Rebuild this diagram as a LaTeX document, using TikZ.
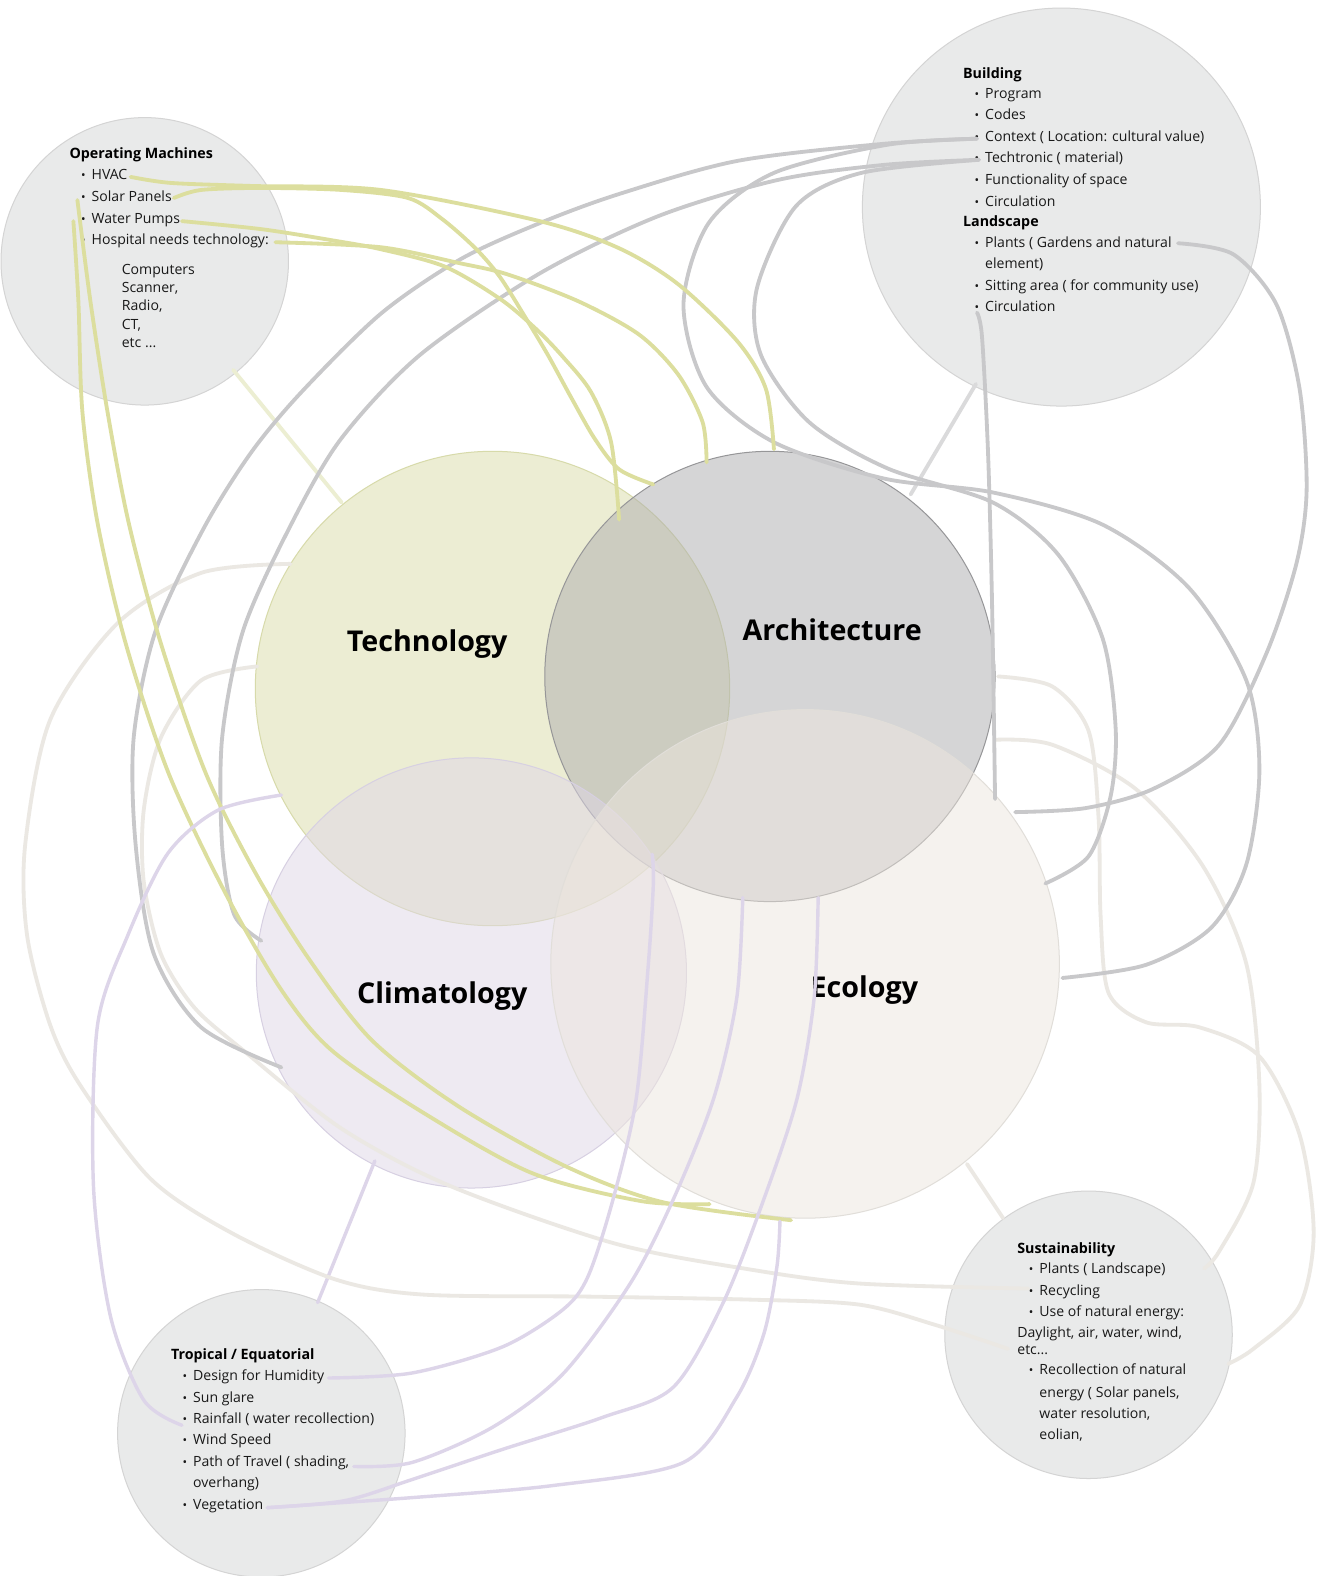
\documentclass[tikz,border=0pt]{standalone}
\usepackage{fontspec}
\setmainfont{Open Sans}
\definecolor{ylw}{RGB}{220,222,158}
\definecolor{gry}{RGB}{200,200,202}
\definecolor{bge}{RGB}{235,232,227}
\definecolor{lav}{RGB}{221,213,233}
\definecolor{paleylw}{RGB}{236,238,210}
\definecolor{palegry}{RGB}{218,218,219}
\definecolor{cfill}{RGB}{233,234,234}
\definecolor{cline}{RGB}{212,212,212}
\definecolor{techfill}{RGB}{195,198,112}
\definecolor{techline}{RGB}{215,218,170}
\definecolor{archfill}{RGB}{173,173,175}
\definecolor{archline}{RGB}{150,150,152}
\definecolor{climfill}{RGB}{223,215,231}
\definecolor{climline}{RGB}{215,208,226}
\definecolor{ecolfill}{RGB}{237,230,222}
\definecolor{ecolline}{RGB}{225,222,217}
\newcommand{\bitem}[4]{\node[bul] at (#2,#3) {•}; \node[lt] (#1) at ([xshift=8pt]#2,#3) {#4};}
\begin{document}
\begin{tikzpicture}[x=1pt,y=-1pt,
  corner/.style={circle, draw=cline, fill=cfill, line width=1pt, inner sep=0pt},
  maincirc/.style={circle, line width=1pt, inner sep=0pt},
  lt/.style={anchor=base west, inner sep=0pt, font=\fontsize{14}{17}\selectfont, text=black!90},
  ltb/.style={lt, font=\fontsize{14.2}{17}\selectfont\bfseries, text=black},
  bul/.style={anchor=base, inner sep=0pt, font=\fontsize{12}{12}\selectfont, text=black!90},
  big/.style={font=\fontsize{28.5}{34}\selectfont\bfseries, inner sep=0pt, text=black},
  conn/.style={line width=3.8pt, line cap=round, line join=round},
  yl/.style={conn, draw=ylw},
  gy/.style={conn, draw=gry},
  bg/.style={conn, draw=bge},
  lv/.style={conn, draw=lav, line width=3.4pt},
]
\fill[white] (0,0) rectangle (1315,1568);
\useasboundingbox (0,0) rectangle (1315,1568);

% corner circles
\node[corner, minimum size=286pt] (om) at (144,260) {};
\node[corner, minimum size=396pt] (bld) at (1056,206) {};
\node[corner, minimum size=286pt] (trop) at (260,1426) {};
\node[corner, minimum size=286pt] (sust) at (1083,1328) {};

% main circles
\node[maincirc, minimum size=472pt, fill=techfill, fill opacity=0.3, draw=techline] (tech) at (490,685) {};
\node[maincirc, minimum size=448pt, fill=archfill, fill opacity=0.5, draw=archline] (arch) at (766,673) {};
\node[maincirc, minimum size=428pt, fill=climfill, fill opacity=0.5, draw=climline] (clim) at (469,968) {};
\node[maincirc, minimum size=506pt, fill=ecolfill, fill opacity=0.5, draw=ecolline] (ecol) at (801,959) {};

% main labels
\node[big] (techL) at (425,641) {Technology};
\node[big] (archL) at (828,627) {Architecture};
\node[big] (climL) at (440,991) {Climatology};
\node[big] (ecolL) at (860,985) {Ecology};

% Operating machines text
\node[ltb] (omT) at (69,158) {Operating Machines};
\bitem{om1}{83}{179}{HVAC}
\bitem{om2}{83}{200}{Solar Panels}
\bitem{om3}{83}{222}{Water Pumps}
\bitem{om4}{83}{243}{Hospital needs technology:}
\node[lt] (om5) at (121,273) {Computers};
\node[lt] (om6) at (121,291) {Scanner,};
\node[lt] (om7) at (121,309) {Radio,};
\node[lt] (om8) at (121,328) {CT,};
\node[lt] (om9) at (121,346) {etc ...};

% Building text
\node[ltb] (bT) at (958,78) {Building};
\bitem{b1}{972}{98}{Program}
\bitem{b2}{972}{119}{Codes}
\bitem{b3}{972}{141}{Context ( Location: cultural value)}
\bitem{b4}{972}{162}{Techtronic ( material)}
\bitem{b5}{972}{184}{Functionality of space}
\bitem{b6}{972}{205}{Circulation}
\node[ltb] (lT) at (958,225) {Landscape};
\bitem{l1}{972}{246}{Plants ( Gardens and natural}
\node[lt] (l1b) at (980,267) {element)};
\bitem{l2}{972}{289}{Sitting area ( for community use)}
\bitem{l3}{972}{310}{Circulation}

% Tropical text
\node[ltb] (tT) at (170,1353) {Tropical / Equatorial};
\bitem{t1}{184}{1373}{Design for Humidity}
\bitem{t2}{184}{1395}{Sun glare}
\bitem{t3}{184}{1416}{Rainfall ( water recollection)}
\bitem{t4}{184}{1437}{Wind Speed}
\bitem{t5}{184}{1459}{Path of Travel ( shading,}
\node[lt] (t5b) at (192,1480) {overhang)};
\bitem{t6}{184}{1502}{Vegetation}

% Sustainability text
\node[ltb] (sT) at (1012,1247) {Sustainability};
\bitem{s1}{1026}{1267}{Plants ( Landscape)}
\bitem{s2}{1026}{1289}{Recycling}
\bitem{s3}{1026}{1310}{Use of natural energy:}
\node[lt] (s3b) at (1012,1331) {Daylight, air, water, wind,};
\node[lt] (s3c) at (1012,1348) {etc...};
\bitem{s4}{1026}{1368}{Recollection of natural}
\node[lt] (s4b) at (1034,1390) {energy ( Solar panels,};
\node[lt] (s4c) at (1034,1411) {water resolution,};
\node[lt] (s4d) at (1034,1432) {eolian,};

% connector end points
\coordinate (hvacE) at (130,176);
\coordinate (solarE) at (173,197);
\coordinate (waterE) at (181,220);
\coordinate (hospE) at (274,241);
\coordinate (solarB) at (77,199);
\coordinate (waterB) at (73,220);
\coordinate (ctxB) at (972,138);
\coordinate (tecB) at (974,159);
\coordinate (plantsE) at (1172,242);
\coordinate (lcircB) at (972,311);
\coordinate (humE) at (327,1371);
\coordinate (rainB) at (181,1418);
\coordinate (pathE) at (352,1459);
\coordinate (vegE) at (266,1500);
\coordinate (sA) at (1023,1282);
\coordinate (sB) at (1003,1342);
\coordinate (sC) at (1198,1262);
\coordinate (sD) at (1222,1357);
\coordinate (archT1) at (770,447);
\coordinate (archT2) at (703,460);
\coordinate (archH) at (650,482);
\coordinate (techI) at (616,517);
\coordinate (climB1) at (706,1198);
\coordinate (ecolB1) at (787,1214);
\coordinate (climL1) at (280,1062);
\coordinate (climL2) at (260,936);
\coordinate (ecolR1) at (1057,973);
\coordinate (ecolR2) at (1040,879);
\coordinate (archR1) at (1010,808);
\coordinate (archR2) at (990,795);
\coordinate (archR3) at (993,673);
\coordinate (archR4) at (990,736);
\coordinate (techL1) at (289,561);
\coordinate (techL2) at (256,663);
\coordinate (techL3) at (280,791);
\coordinate (archB1) at (649,850);
\coordinate (archB2) at (739,893);
\coordinate (archB3) at (814,893);
\coordinate (ecolB2) at (776,1215);

% straight links
\draw[conn, draw=paleylw] (232,368) -- (340,500);
\draw[conn, draw=palegry] (971,382) -- (906,492);
\draw[conn, draw=bge] (962,1158) -- (998,1212);
\draw[lv] (373,1155) -- (316,1296);

% beige
\draw[bg] plot[smooth] coordinates {(archR3) (1047,683) (1083,727) (1093,814) (1095,911) (1103,988) (1140,1017) (1193,1022) (1253,1051) (1293,1129) (1307,1226) (1293,1299) (1247,1342) (sD)};
\draw[bg] plot[smooth] coordinates {(archR4) (1047,741) (1130,785) (1197,862) (1240,959) (1253,1080) (1247,1177) (1213,1245) (sC)};
\draw[bg] plot[smooth] coordinates {(techL1) (200,570) (117,620) (50,716) (25,841) (27,931) (50,1020) (80,1080) (150,1173) (231,1227) (334,1273) (421,1288) (584,1290) (746,1293) (855,1298) (930,1318) (sB)};
\draw[bg] plot[smooth] coordinates {(techL2) (200,677) (160,734) (143,806) (143,877) (160,949) (193,1002) (242,1045) (340,1123) (448,1180) (611,1237) (746,1263) (855,1277) (sA)};

% gray
\draw[gy] plot[smooth] coordinates {(ctxB) (880,143) (734,160) (616,193) (537,222) (458,258) (379,312) (300,390) (250,450) (203,525) (155,627) (133,734) (135,841) (153,949) (200,1022) (climL1)};
\draw[gy] plot[smooth] coordinates {(tecB) (880,164) (774,179) (655,215) (537,272) (418,353) (339,437) (288,525) (242,627) (221,734) (221,841) (233,910) (climL2)};
\draw[gy] plot[smooth] coordinates {(ctxB) (883,144) (770,172) (705,222) (680,303) (703,385) (770,440) (879,476) (988,490) (1097,522) (1183,585) (1240,677) (1253,766) (1240,860) (1205,923) (1140,960) (ecolR1)};
\draw[gy] plot[smooth] coordinates {(tecB) (857,172) (792,205) (753,287) (757,353) (805,420) (883,466) (988,500) (1053,552) (1097,635) (1110,725) (1105,792) (1083,852) (ecolR2)};
\draw[gy] plot[smooth] coordinates {(plantsE) (1227,253) (1270,303) (1293,387) (1300,487) (1290,560) (1260,650) (1213,741) (1147,785) (1080,804) (archR1)};
\draw[gy] plot[smooth] coordinates {(lcircB) (977,335) (983,450) (987,600) (archR2)};

% yellow
\draw[yl] plot[smooth] coordinates {(hvacE) (170,182) (250,185) (379,189) (537,220) (616,247) (675,283) (734,340) (762,387) (archT1)};
\draw[yl] plot[smooth] coordinates {(solarE) (200,189) (260,187) (340,189) (406,197) (440,218) (473,247) (497,275) (521,313) (545,353) (568,395) (592,437) (616,467) (archH)};
\draw[yl] plot[smooth] coordinates {(waterE) (260,228) (330,239) (379,248) (442,265) (497,297) (533,327) (560,355) (588,390) (608,440) (techI)};
\draw[yl] plot[smooth] coordinates {(hospE) (379,246) (458,262) (505,273) (576,300) (636,333) (675,373) (699,420) (archT2)};
\draw[yl] plot[smooth] coordinates {(solarB) (90,300) (107,410) (128,520) (160,640) (205,770) (255,870) (308,955) (370,1035) (455,1100) (562,1160) (659,1196) (ecolB1)};
\draw[yl] plot[smooth] coordinates {(waterB) (78,300) (82,410) (97,520) (125,640) (168,770) (225,890) (280,985) (330,1045) (421,1107) (529,1167) (638,1195) (climB1)};

% lavender
\draw[lv] plot[smooth] coordinates {(rainB) (143,1393) (110,1310) (93,1180) (97,1020) (127,931) (167,849) (217,806) (techL3)};
\draw[lv] plot[smooth] coordinates {(humE) (410,1366) (500,1340) (560,1303) (585,1270) (610,1193) (633,1093) (645,960) (650,880) (archB1)};
\draw[lv] plot[smooth] coordinates {(pathE) (410,1455) (490,1420) (560,1367) (627,1277) (670,1193) (710,1093) (733,993) (archB2)};
\draw[lv] plot[smooth] coordinates {(vegE) (343,1493) (410,1472) (500,1442) (600,1410) (670,1380) (720,1295) (760,1193) (793,1093) (810,993) (archB3)};
\draw[lv] plot[smooth] coordinates {(vegE) (410,1490) (550,1478) (680,1455) (733,1390) (760,1327) (773,1260) (ecolB2)};
\end{tikzpicture}
\end{document}
